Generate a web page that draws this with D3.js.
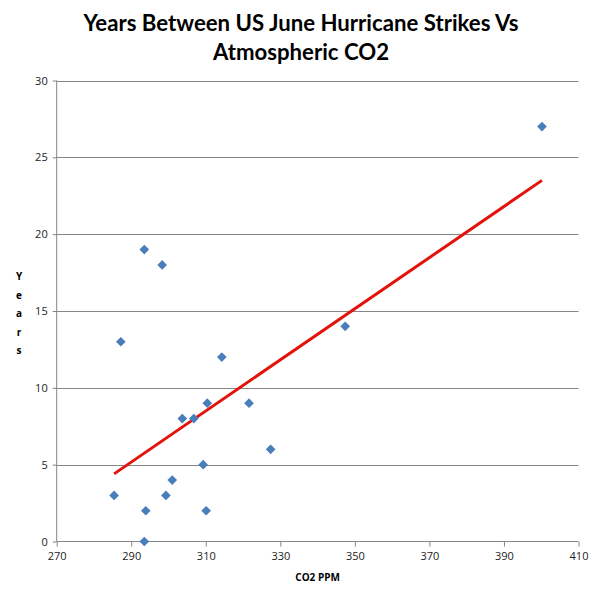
<!DOCTYPE html>
<html>
<head>
<meta charset="utf-8">
<script src="https://cdn.jsdelivr.net/npm/d3@7"></script>
<style>
  html, body { margin: 0; padding: 0; background: #fff; }
  svg { display: block; }
</style>
</head>
<body>
<div id="chart"></div>
<script>
// ---- data ----
const co2 = [285.4, 287.2, 293.5, 293.5, 293.9, 298.3, 299.3, 301.0, 303.7, 306.8, 309.3, 310.1, 310.4, 314.3, 321.6, 327.4, 347.4, 400.2];
const years = [3, 13, 19, 0, 2, 18, 3, 4, 8, 8, 5, 2, 9, 12, 9, 6, 14, 27];
const trendX = [285.4, 400.2];
const trendY = [4.4, 23.5];
const xTicks = [270, 290, 310, 330, 350, 370, 390, 410];
const yTicks = [0, 5, 10, 15, 20, 25, 30];
const titleLines = ["Years Between US June Hurricane Strikes Vs", "Atmospheric CO2"];
const xTitle = "CO2 PPM";
const yTitle = "Years";

(function () {
const W = 598, H = 600;
const svg = d3.select("#chart").append("svg").attr("width", W).attr("height", H);

const mLeft = 56.7, mRight = 578.5, mTop = 80.5, mBottom = 541.5;
const x = d3.scaleLinear().domain([270, 410]).range([mLeft, mRight]);
const y = d3.scaleLinear().domain([0, 30]).range([mBottom, mTop]);

const grey = "#868686";

// gridlines
svg.append("g").selectAll("line").data(yTicks.filter(d => d > 0)).join("line")
  .attr("x1", mLeft).attr("x2", mRight)
  .attr("y1", d => Math.round(y(d)) + 0.5).attr("y2", d => Math.round(y(d)) + 0.5)
  .attr("stroke", grey).attr("stroke-width", 1);

// axes
const yAxis = d3.axisLeft(y).tickValues(yTicks).tickSize(4).tickPadding(5);
const gy = svg.append("g").attr("transform", `translate(${mLeft},0)`).call(yAxis);
const xAxis = d3.axisBottom(x).tickValues(xTicks).tickSize(5).tickPadding(6);
const gx = svg.append("g").attr("transform", `translate(0,${mBottom})`).call(xAxis);
[gx, gy].forEach(g => {
  g.select(".domain").attr("stroke", grey);
  g.selectAll(".tick line").attr("stroke", grey);
  g.selectAll(".tick text").attr("fill", "#222").attr("font-family", "'Open Sans', 'DejaVu Sans', sans-serif").attr("font-size", 11);
});
gy.select(".domain").attr("d", `M0,${mTop}V${mBottom}`);
gx.select(".domain").attr("d", `M${mLeft},0H${mRight}`);

// trend line
svg.append("path")
  .datum(trendX.map((d, i) => [d, trendY[i]]))
  .attr("d", d3.line().x(d => x(d[0])).y(d => y(d[1])))
  .attr("stroke", "#e3120b").attr("stroke-width", 3).attr("fill", "none");

// markers (diamonds)
const sym = d3.symbol().type(d3.symbolDiamond2).size(60);
svg.append("g").selectAll("path").data(co2.map((d, i) => [d, years[i]])).join("path")
  .attr("transform", d => `translate(${x(d[0])},${y(d[1])})`)
  .attr("d", sym)
  .attr("fill", "#4a7ebb");

// title
svg.append("g").selectAll("text").data(titleLines).join("text")
  .attr("x", W / 2 + 2).attr("y", (d, i) => 31 + i * 29)
  .attr("text-anchor", "middle")
  .attr("font-family", "Lato, 'Open Sans', sans-serif")
  .attr("font-weight", "bold").attr("font-size", 22.2)
  .attr("fill", "#000")
  .text(d => d);

// x axis title
svg.append("text")
  .attr("x", (mLeft + mRight) / 2).attr("y", 581)
  .attr("text-anchor", "middle")
  .attr("font-family", "'Open Sans', sans-serif")
  .attr("font-weight", "bold").attr("font-size", 10)
  .attr("fill", "#000")
  .text(xTitle);

// y axis title (stacked letters)
svg.append("g").selectAll("text").data(yTitle.split("")).join("text")
  .attr("x", 19).attr("y", (d, i) => 280 + i * 18.5)
  .attr("text-anchor", "middle")
  .attr("font-family", "'Open Sans', sans-serif")
  .attr("font-weight", "bold").attr("font-size", 10)
  .attr("fill", "#000")
  .text(d => d);
})();
</script>
</body>
</html>
